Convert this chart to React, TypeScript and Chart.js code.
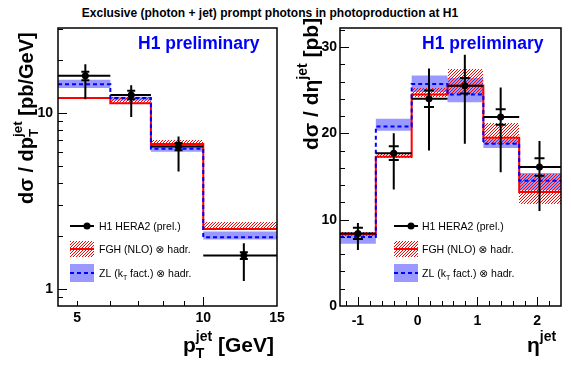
import React, { useEffect, useRef } from 'react';
import { Chart, registerables } from 'chart.js';
Chart.register(...registerables);

const FONT = '"Liberation Sans", Arial, Helvetica, "DejaVu Sans", sans-serif';

// ---------- left panel: pT(jet) ----------
const ptEdges = [4.5, 6, 7.5, 10, 15];
const ptCenters = [5.23, 6.73, 8.73, 12.5];
const ptData = [16.3, 12.7, 6.46, 1.55];
const ptErrUp = [2.7, 1.7, 0.9, 0.27];
const ptErrDown = [4.3, 3.2, 1.8, 0.44];
const ptStat = [0.9, 0.7, 0.3, 0.07];
const ptFGH = [12.2, 11.4, 6.67, 2.19];
const ptFGHLow = [12.2, 11.4, 6.67, 2.19];
const ptFGHHigh = [12.35, 12.4, 7.05, 2.41];
const ptZL = [14.6, 12.2, 6.27, 1.97];
const ptZLLow = [13.9, 11.8, 6.04, 1.91];
const ptZLHigh = [15.5, 12.4, 6.6, 2.12];
const ptXLabels = [5, 10, 15];
const ptXMajor = [10];
const ptXMinor = [5, 6, 7, 8, 9];
const ptYLabels = [1, 10];
const ptYMajor = [1, 10];
const ptYMinor = [0.9, 2, 3, 4, 5, 6, 7, 8, 9, 20, 30];

// ---------- right panel: eta(jet) ----------
const etaEdges = [-1.3, -0.7, -0.1, 0.5, 1.1, 1.7, 2.4];
const etaCenters = [-1.0, -0.4, 0.19, 0.79, 1.39, 2.04];
const etaData = [8.4, 17.7, 24.0, 25.5, 21.9, 16.1];
const etaErrUp = [1.2, 2.3, 3.5, 3.6, 3.4, 3.0];
const etaErrDown = [1.9, 4.2, 6.0, 6.7, 6.4, 5.1];
const etaStat = [0.65, 0.8, 0.95, 0.9, 0.9, 1.0];
const etaFGH = [8.3, 17.3, 24.5, 25.5, 19.5, 13.2];
const etaFGHLow = [8.1, 17.1, 24.2, 24.5, 18.8, 11.8];
const etaFGHHigh = [8.6, 17.6, 25.2, 27.5, 21.2, 15.3];
const etaZL = [8.0, 20.8, 25.7, 24.5, 18.8, 14.5];
const etaZLLow = [7.2, 20.3, 24.8, 23.6, 18.3, 13.4];
const etaZLHigh = [8.5, 21.7, 26.7, 26.4, 19.3, 15.4];
const etaXLabels = [-1, 0, 1, 2];
const etaXMajor = [-1, 0, 1, 2];
const etaXMinor = [-1.2, -0.8, -0.6, -0.4, -0.2, 0.2, 0.4, 0.6, 0.8, 1.2, 1.4, 1.6, 1.8, 2.2, 2.4];
const etaYLabels = [0, 10, 20, 30];
const etaYMajor = [0, 10, 20, 30];
const etaYMinor = [2, 4, 6, 8, 12, 14, 16, 18, 22, 24, 26, 28, 32];

const TITLE = 'Exclusive (photon + jet) prompt photons in photoproduction at H1';
const PRELIM = 'H1 preliminary';
const LEG_DATA = 'H1 HERA2 (prel.)';
const LEG_FGH = 'FGH (NLO) \u2297 hadr.';
const LEG_ZL_A = 'ZL (k';
const LEG_ZL_SUB = 'T';
const LEG_ZL_B = ' fact.) \u2297 hadr.';

type Part = { t: string; size: number; dy?: number; stack?: boolean; bold?: boolean };

function drawRich(ctx: CanvasRenderingContext2D, x: number, y: number, rot: number, parts: Part[]) {
  ctx.save();
  ctx.translate(x, y);
  ctx.rotate(rot);
  ctx.textBaseline = 'alphabetic';
  ctx.textAlign = 'left';
  ctx.fillStyle = '#000';
  let cx = 0;
  let stackW = 0;
  for (const p of parts) {
    ctx.font = `${p.bold === false ? '' : 'bold '}${p.size}px ${FONT}`;
    ctx.fillText(p.t, cx, p.dy || 0);
    const w = ctx.measureText(p.t).width;
    if (p.stack) stackW = Math.max(stackW, w);
    else {
      cx += Math.max(w, stackW);
      stackW = 0;
    }
  }
  ctx.restore();
}

// crisp red "/" hatch pattern made pixel by pixel
function makeHatch(ctx: CanvasRenderingContext2D): CanvasPattern {
  const n = 3;
  const c = document.createElement('canvas');
  c.width = n;
  c.height = n;
  const g = c.getContext('2d')!;
  const img = g.createImageData(n, n);
  for (let y = 0; y < n; y++) {
    for (let x = 0; x < n; x++) {
      if ((x + y) % n === n - 1) {
        const k = (y * n + x) * 4;
        img.data[k] = 255;
        img.data[k + 1] = 0;
        img.data[k + 2] = 0;
        img.data[k + 3] = 255;
      }
    }
  }
  g.putImageData(img, 0, 0);
  return ctx.createPattern(c, 'repeat')!;
}

function hatchRect(ctx: CanvasRenderingContext2D, pat: CanvasPattern, x0: number, y0: number, x1: number, y1: number) {
  const l = Math.round(Math.min(x0, x1)), r = Math.round(Math.max(x0, x1));
  const t = Math.round(Math.min(y0, y1)), b = Math.round(Math.max(y0, y1));
  if (r - l < 1 || b - t < 1) return;
  ctx.save();
  ctx.fillStyle = pat;
  ctx.fillRect(l, t, r - l, b - t);
  ctx.restore();
}

type Panel = {
  xType: 'logarithmic' | 'linear';
  yType: 'logarithmic' | 'linear';
  xMin: number; xMax: number; yMin: number; yMax: number;
  edges: number[]; centers: number[]; data: number[]; errUp: number[]; errDown: number[]; stat: number[];
  fgh: number[]; fghLow: number[]; fghHigh: number[]; zl: number[]; zlLow: number[]; zlHigh: number[];
  xLabels: number[]; yLabels: number[]; xMajor: number[]; xMinor: number[]; yMajor: number[]; yMinor: number[];
  yAxisWidth: number; padRight: number; xLabelPad: number; yLabelPad: number;
  capHalf: number; dash: number[];
  legendX0: number; legendX1: number; legendTextX: number;
  prelimX: number;
  titles: (ctx: CanvasRenderingContext2D) => void;
};

function buildChart(canvas: HTMLCanvasElement, p: Panel) {
  const hatch = makeHatch(canvas.getContext('2d')!);
  const step = (vals: number[]) => p.edges.map((e, i) => ({ x: e, y: vals[Math.min(i, vals.length - 1)] }));
  const base: any = { type: 'line', stepped: true, pointRadius: 0, pointHoverRadius: 0, fill: false, tension: 0 };
  const datasets: any[] = [
    {
      type: 'line',
      data: p.centers.map((c, i) => ({ x: c, y: p.data[i] })),
      showLine: false,
      pointRadius: 3.5,
      pointBackgroundColor: '#000',
      pointBorderColor: '#000',
      pointBorderWidth: 0,
      order: 0,
    },
    { ...base, data: step(p.zl), borderColor: '#0000ff', borderWidth: 2, borderDash: p.dash, order: 1 },
    { ...base, data: step(p.fgh), borderColor: '#ff0000', borderWidth: 2, order: 2 },
    { ...base, data: step(p.zlHigh), borderColor: 'rgba(0,0,0,0)', borderWidth: 0, fill: 4, backgroundColor: '#9999ff', order: 3 },
    { ...base, data: step(p.zlLow), borderColor: 'rgba(0,0,0,0)', borderWidth: 0, order: 4 },
  ];

  const overlay = {
    id: 'overlay',
    beforeDatasetDraw(chart: any, args: any) {
      if (args.index !== 2) return;
      const ctx: CanvasRenderingContext2D = chart.ctx;
      const xs = chart.scales.x;
      const ys = chart.scales.y;
      for (let i = 0; i < p.fgh.length; i++) {
        hatchRect(
          ctx,
          hatch,
          xs.getPixelForValue(p.edges[i]),
          ys.getPixelForValue(p.fghHigh[i]),
          xs.getPixelForValue(p.edges[i + 1]),
          ys.getPixelForValue(p.fghLow[i]),
        );
      }
    },
    afterDatasetsDraw(chart: any) {
      const ctx: CanvasRenderingContext2D = chart.ctx;
      const xs = chart.scales.x;
      const ys = chart.scales.y;
      const a = chart.chartArea;
      ctx.save();
      ctx.beginPath();
      ctx.rect(a.left, a.top, a.right - a.left, a.bottom - a.top);
      ctx.clip();
      ctx.strokeStyle = '#000';
      ctx.lineWidth = 2;
      ctx.beginPath();
      for (let i = 0; i < p.data.length; i++) {
        const px = xs.getPixelForValue(p.centers[i]);
        const py = ys.getPixelForValue(p.data[i]);
        ctx.moveTo(xs.getPixelForValue(p.edges[i]), py);
        ctx.lineTo(xs.getPixelForValue(p.edges[i + 1]), py);
        ctx.moveTo(px, ys.getPixelForValue(p.data[i] + p.errUp[i]));
        ctx.lineTo(px, ys.getPixelForValue(p.data[i] - p.errDown[i]));
        for (const s of [1, -1]) {
          const cy = ys.getPixelForValue(p.data[i] + s * p.stat[i]);
          ctx.moveTo(px - p.capHalf, cy);
          ctx.lineTo(px + p.capHalf, cy);
        }
      }
      ctx.stroke();
      ctx.restore();
    },
    afterDraw(chart: any) {
      const ctx: CanvasRenderingContext2D = chart.ctx;
      const xs = chart.scales.x;
      const ys = chart.scales.y;
      const a = chart.chartArea;
      ctx.save();
      ctx.strokeStyle = '#000';
      ctx.lineWidth = 1.5;
      ctx.strokeRect(a.left, a.top, a.right - a.left, a.bottom - a.top);
      ctx.lineWidth = 1;
      ctx.beginPath();
      const tick = (vals: number[], len: number, horiz: boolean) => {
        for (const v of vals) {
          if (horiz) {
            const x = Math.round(xs.getPixelForValue(v)) + 0.5;
            if (x < a.left || x > a.right) continue;
            ctx.moveTo(x, a.bottom);
            ctx.lineTo(x, a.bottom - len);
          } else {
            const y = Math.round(ys.getPixelForValue(v)) + 0.5;
            if (y < a.top || y > a.bottom) continue;
            ctx.moveTo(a.left, y);
            ctx.lineTo(a.left + len, y);
          }
        }
      };
      tick(p.xMajor, 9, true);
      tick(p.xMinor, 5, true);
      tick(p.yMajor, 9, false);
      tick(p.yMinor, 5, false);
      ctx.stroke();

      ctx.fillStyle = '#0000ff';
      ctx.font = `bold 17.5px ${FONT}`;
      ctx.textBaseline = 'alphabetic';
      ctx.textAlign = 'left';
      ctx.fillText(PRELIM, p.prelimX, 49);

      const rows = [226, 249, 273];
      const x0 = p.legendX0;
      const x1 = p.legendX1;
      ctx.strokeStyle = '#000';
      ctx.lineWidth = 2;
      ctx.beginPath();
      ctx.moveTo(x0, rows[0]);
      ctx.lineTo(x1, rows[0]);
      ctx.stroke();
      ctx.fillStyle = '#000';
      ctx.beginPath();
      ctx.arc((x0 + x1) / 2 + 5, rows[0], 3.5, 0, Math.PI * 2);
      ctx.fill();
      hatchRect(ctx, hatch, x0, rows[1] - 8, x1, rows[1] + 8);
      ctx.strokeStyle = '#ff0000';
      ctx.lineWidth = 2;
      ctx.beginPath();
      ctx.moveTo(x0, rows[1]);
      ctx.lineTo(x1, rows[1]);
      ctx.stroke();
      ctx.fillStyle = '#9999ff';
      ctx.fillRect(x0, rows[2] - 9, x1 - x0, 18);
      ctx.strokeStyle = '#0000ff';
      ctx.setLineDash([4, 3]);
      ctx.beginPath();
      ctx.moveTo(x0, rows[2]);
      ctx.lineTo(x1, rows[2]);
      ctx.stroke();
      ctx.setLineDash([]);
      ctx.restore();

      const tx = p.legendTextX;
      drawRich(ctx, tx, rows[0] + 4, 0, [{ t: LEG_DATA, size: 10.5, bold: false }]);
      drawRich(ctx, tx, rows[1] + 4, 0, [{ t: LEG_FGH, size: 10.5, bold: false }]);
      drawRich(ctx, tx, rows[2] + 4, 0, [
        { t: LEG_ZL_A, size: 10.5, bold: false },
        { t: LEG_ZL_SUB, size: 7, bold: false, dy: 3 },
        { t: LEG_ZL_B, size: 10.5, bold: false },
      ]);

      p.titles(ctx);
    },
  };

  const tickFont = { family: FONT, size: 14, weight: 'bold' as const };
  return new Chart(canvas, {
    type: 'line',
    data: { datasets },
    options: {
      responsive: false,
      animation: false,
      events: [],
      layout: { padding: { left: 0, top: 28, right: p.padRight, bottom: 0 } },
      plugins: { legend: { display: false }, tooltip: { enabled: false } },
      scales: {
        x: {
          type: p.xType,
          min: p.xMin,
          max: p.xMax,
          grid: { display: false, drawTicks: false },
          border: { display: false },
          ticks: {
            autoSkip: false,
            maxRotation: 0,
            minRotation: 0,
            padding: p.xLabelPad,
            color: '#000',
            font: tickFont,
            callback: (v: any) => String(v),
          },
          afterBuildTicks: (s: any) => {
            s.ticks = p.xLabels.map((v) => ({ value: v }));
          },
          afterFit: (s: any) => {
            s.height = 64;
          },
        } as any,
        y: {
          type: p.yType,
          min: p.yMin,
          max: p.yMax,
          grid: { display: false, drawTicks: false },
          border: { display: false },
          ticks: {
            autoSkip: false,
            padding: p.yLabelPad,
            color: '#000',
            font: tickFont,
            callback: (v: any) => String(v),
          },
          afterBuildTicks: (s: any) => {
            s.ticks = p.yLabels.map((v) => ({ value: v }));
          },
          afterFit: (s: any) => {
            s.width = p.yAxisWidth;
          },
        } as any,
      },
    },
    plugins: [overlay],
  } as any);
}

const leftPanel: Panel = {
  xType: 'logarithmic', yType: 'logarithmic',
  xMin: 4.5, xMax: 15, yMin: 0.8, yMax: 30.5,
  edges: ptEdges, centers: ptCenters, data: ptData, errUp: ptErrUp, errDown: ptErrDown, stat: ptStat,
  fgh: ptFGH, fghLow: ptFGHLow, fghHigh: ptFGHHigh, zl: ptZL, zlLow: ptZLLow, zlHigh: ptZLHigh,
  xLabels: ptXLabels, yLabels: ptYLabels, xMajor: ptXMajor, xMinor: ptXMinor, yMajor: ptYMajor, yMinor: ptYMinor,
  yAxisWidth: 58, padRight: 13, xLabelPad: 4, yLabelPad: 5,
  capHalf: 4, dash: [4, 3],
  legendX0: 70, legendX1: 94, legendTextX: 99,
  prelimX: 138,
  titles: (ctx) => {
    drawRich(ctx, 33, 204, -Math.PI / 2, [
      { t: 'd\u03c3 / dp', size: 20 },
      { t: 'jet', size: 13.5, dy: -11, stack: true },
      { t: 'T', size: 13.5, dy: 5 },
      { t: ' [pb/GeV]', size: 20 },
    ]);
    drawRich(ctx, 183, 352, 0, [
      { t: 'p', size: 21 },
      { t: 'jet', size: 14, dy: -11, stack: true },
      { t: 'T', size: 14, dy: 6 },
      { t: ' [GeV]', size: 21 },
    ]);
  },
};

const rightPanel: Panel = {
  xType: 'linear', yType: 'linear',
  xMin: -1.3, xMax: 2.4, yMin: 0, yMax: 32.2,
  edges: etaEdges, centers: etaCenters, data: etaData, errUp: etaErrUp, errDown: etaErrDown, stat: etaStat,
  fgh: etaFGH, fghLow: etaFGHLow, fghHigh: etaFGHHigh, zl: etaZL, zlLow: etaZLLow, zlHigh: etaZLHigh,
  xLabels: etaXLabels, yLabels: etaYLabels, xMajor: etaXMajor, xMinor: etaXMinor, yMajor: etaYMajor, yMinor: etaYMinor,
  yAxisWidth: 50, padRight: 10, xLabelPad: 7, yLabelPad: 3,
  capHalf: 5, dash: [4, 3],
  legendX0: 104, legendX1: 128, legendTextX: 132,
  prelimX: 132,
  titles: (ctx) => {
    drawRich(ctx, 28, 150, -Math.PI / 2, [
      { t: 'd\u03c3 / d\u03b7', size: 21 },
      { t: 'jet', size: 14, dy: -11 },
      { t: ' [pb]', size: 21 },
    ]);
    drawRich(ctx, 237, 352, 0, [
      { t: '\u03b7', size: 21 },
      { t: 'jet', size: 14, dy: -11 },
    ]);
  },
};

export default function App() {
  const leftRef = useRef<HTMLCanvasElement>(null);
  const rightRef = useRef<HTMLCanvasElement>(null);
  useEffect(() => {
    document.body.style.margin = '0';
    const c1 = buildChart(leftRef.current!, leftPanel);
    const c2 = buildChart(rightRef.current!, rightPanel);
    return () => {
      c1.destroy();
      c2.destroy();
    };
  }, []);
  return (
    <div style={{ position: 'absolute', left: 0, top: 0, width: 571, height: 370, background: '#fff', overflow: 'hidden' }}>
      <div
        style={{
          position: 'absolute',
          left: 0,
          top: 6,
          width: 540,
          textAlign: 'center',
          font: `bold 12px ${FONT}`,
          lineHeight: '15px',
          color: '#000',
          whiteSpace: 'nowrap',
        }}
      >
        {TITLE}
      </div>
      <canvas ref={leftRef} width={290} height={370} style={{ position: 'absolute', left: 0, top: 0 }} />
      <canvas ref={rightRef} width={281} height={370} style={{ position: 'absolute', left: 290, top: 0 }} />
    </div>
  );
}
